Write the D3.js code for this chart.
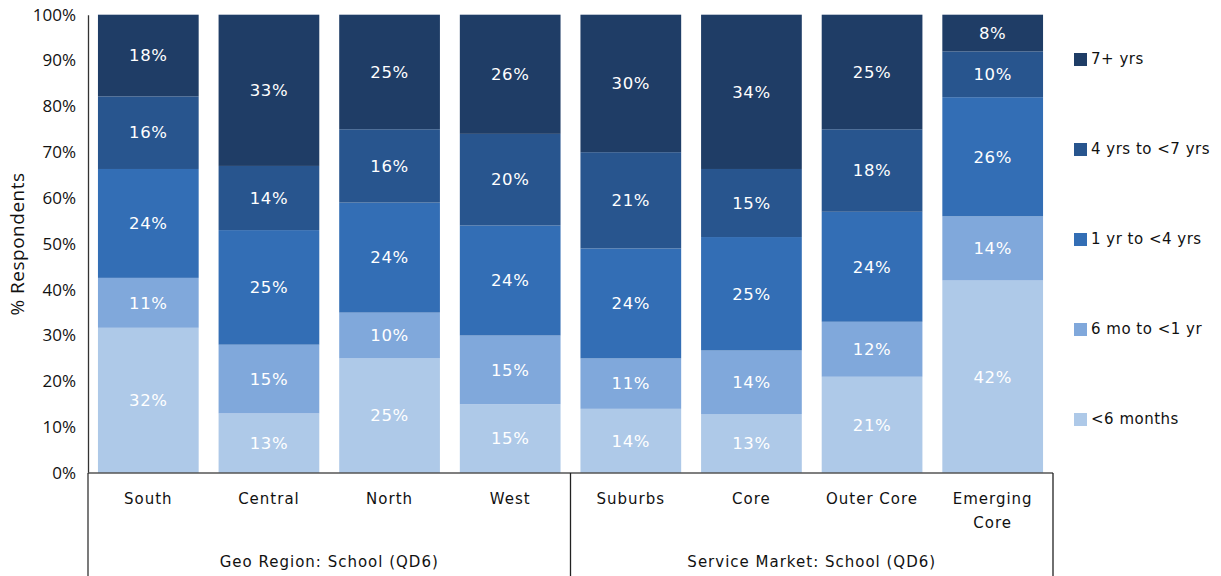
<!DOCTYPE html>
<html><head><meta charset="utf-8">
<script src="https://cdn.jsdelivr.net/npm/d3@7"></script>
<style>body{margin:0;background:#fff}svg{display:block}</style>
</head><body>
<svg id="c" width="1221" height="576"></svg>
<script>
const categories = ["South","Central","North","West","Suburbs","Core","Outer Core","Emerging Core"];
const groups = [{name:"Geo Region: School (QD6)", from:0, to:3},{name:"Service Market: School (QD6)", from:4, to:7}];
const seriesNames = ["<6 months","6 mo to <1 yr","1 yr to <4 yrs","4 yrs to <7 yrs","7+ yrs"];
const lt6m   = [32,13,25,15,14,13,21,42];
const m6to1  = [11,15,10,15,11,14,12,14];
const y1to4  = [24,25,24,24,24,25,24,26];
const y4to7  = [16,14,16,20,21,15,18,10];
const y7plus = [18,33,25,26,30,34,25,8];
const yTicks = [0,0.1,0.2,0.3,0.4,0.5,0.6,0.7,0.8,0.9,1.0];
const colors = ["#aec9e8","#80a8db","#336eb5","#28558e","#1f3d66"];

const seriesVals = [lt6m,m6to1,y1to4,y4to7,y7plus];
const rows = categories.map((c,i)=>{const r={cat:c}; seriesNames.forEach((s,j)=>r[s]=seriesVals[j][i]); return r;});
const stack = d3.stack().keys(seriesNames).offset(d3.stackOffsetExpand)(rows);

const svg = d3.select("#c");
const L=88, R=1053, T=14.7, B=473;
const x = d3.scaleBand().domain(categories).range([L,R]).paddingInner(0.165).paddingOuter(0.0825);
const y = d3.scaleLinear().domain([0,1]).range([B,T]);
const font = "'DejaVu Sans', sans-serif";

// bars
stack.forEach((s,j)=>{
  const g = svg.append("g");
  g.selectAll("rect").data(s).join("rect")
    .attr("x",d=>x(d.data.cat)).attr("width",x.bandwidth())
    .attr("y",d=>y(d[1])).attr("height",d=>y(d[0])-y(d[1]))
    .attr("fill",colors[j]);
  g.selectAll("text").data(s).join("text")
    .attr("x",d=>x(d.data.cat)+x.bandwidth()/2)
    .attr("y",d=>(y(d[0])+y(d[1]))/2)
    .attr("dy","0.35em").attr("text-anchor","middle")
    .attr("fill","#fff").attr("font-family",font).attr("font-size",16.5).attr("letter-spacing","0.6px")
    .text(d=>d.data[s.key]+"%");
});

// y axis
const ya = svg.append("g").attr("transform",`translate(${L},0)`)
  .call(d3.axisLeft(y).tickValues(yTicks).tickFormat(d3.format(".0%")).tickSize(0).tickPadding(12));
ya.attr("font-size",null).attr("font-family",null);
ya.select(".domain").attr("stroke","#333").attr("stroke-width",1.3);
ya.selectAll("text").style("font-family","'Open Sans', sans-serif").style("font-size","17px").attr("fill","#111");

// bottom axis line
svg.append("line").attr("x1",L).attr("x2",R).attr("y1",B).attr("y2",B).attr("stroke","#555").attr("stroke-width",1.3);
// extended left line down
svg.append("line").attr("x1",L).attr("x2",L).attr("y1",B).attr("y2",576).attr("stroke","#333").attr("stroke-width",1.3);
// group separators
const sepX = [L, (x(categories[3])+x.bandwidth()+x(categories[4]))/2, R];
sepX.slice(1).forEach(sx=>svg.append("line").attr("x1",sx).attr("x2",sx).attr("y1",B).attr("y2",576).attr("stroke","#222").attr("stroke-width",1.3));

// category labels
categories.forEach(c=>{
  const words = c==="Emerging Core" ? ["Emerging","Core"] : [c];
  const t = svg.append("text").attr("x",x(c)+x.bandwidth()/2).attr("y",504)
    .attr("text-anchor","middle").attr("font-family",font).attr("font-size",15)
    .attr("letter-spacing","1px").attr("fill","#111");
  words.forEach((w,i)=>t.append("tspan").attr("x",x(c)+x.bandwidth()/2).attr("dy",i?24:0).text(w));
});
// group labels
groups.forEach((g,i)=>{
  const cx = (sepX[i]+sepX[i+1])/2;
  svg.append("text").attr("x",cx).attr("y",567).attr("text-anchor","middle")
    .attr("font-family",font).attr("font-size",15).attr("letter-spacing","1px").attr("fill","#111").text(g.name);
});

// y title
svg.append("text").attr("transform","translate(24,244) rotate(-90)").attr("text-anchor","middle")
  .style("font-family","'Open Sans', sans-serif").style("font-size","19px").attr("letter-spacing","0.5px").attr("fill","#111").text("% Respondents");

// legend
const legOrder = seriesNames.map((s,i)=>({s,c:colors[i]})).reverse();
const legY = d3.scalePoint().domain(legOrder.map(d=>d.s)).range([59,419]);
legOrder.forEach(d=>{
  svg.append("rect").attr("x",1074).attr("y",legY(d.s)-6).attr("width",13).attr("height",13).attr("fill",d.c);
  svg.append("text").attr("x",1091).attr("y",legY(d.s)).attr("dy","0.35em")
    .attr("font-family",font).attr("font-size",15).attr("letter-spacing","0.5px").attr("fill","#111").text(d.s);
});
</script>
</body></html>
